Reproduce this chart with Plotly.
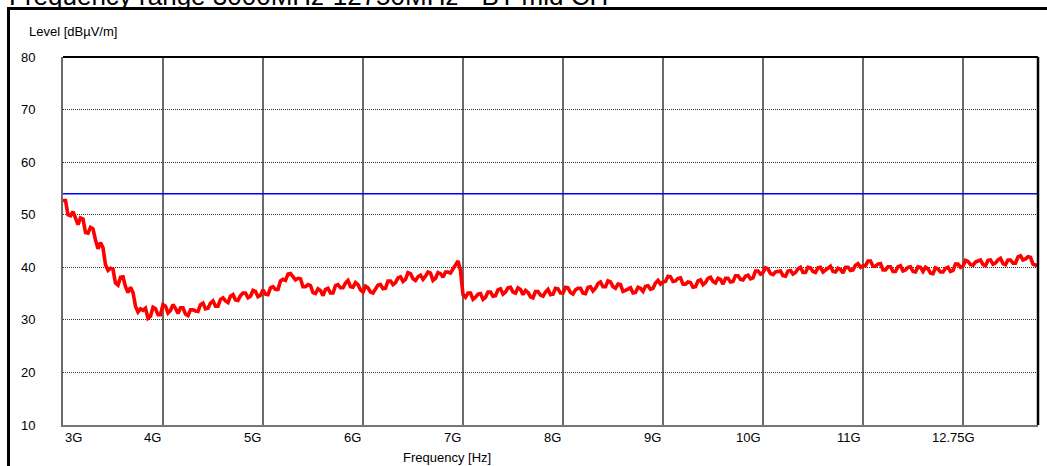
import numpy as np
import plotly.graph_objects as go

# ---- data ----
tick_freqs = [3, 4, 5, 6, 7, 8, 9, 10, 11, 12]
tick_labels = ["3G", "4G", "5G", "6G", "7G", "8G", "9G", "10G", "11G", "12.75G"]
y_ticks = [10, 20, 30, 40, 50, 60, 70, 80]
limit_level = 54.0
f_start, f_stop, f_step = 3.0, 12.75, 0.05

# measured level at f_start + i*f_step (GHz)
level = [
    52.7, 50.0, 50.6, 48.1, 49.2, 46.5, 47.3, 43.5, 43.7, 39.4, 39.6, 36.6, 38.2, 35.2, 35.2, 31.5, 31.8, 30.3, 32.4, 31.0,
    32.9, 31.3, 32.9, 31.2, 32.3, 30.8, 31.9, 31.6, 33.2, 32.2, 33.6, 32.6, 34.2, 33.3, 34.8, 33.7, 35.1, 34.2, 35.6, 34.4,
    35.7, 34.8, 36.3, 35.8, 37.7, 38.7, 38.1, 37.9, 36.3, 36.7, 35.2, 35.9, 34.6, 36.0, 35.1, 36.7, 36.1, 37.5, 36.2, 36.7,
    35.3, 36.1, 35.1, 36.6, 35.9, 37.4, 36.7, 38.0, 37.3, 39.0, 37.8, 38.2, 37.7, 39.1, 37.5, 39.0, 38.1, 39.1, 39.7, 41.2,
    34.8, 35.1, 33.9, 34.9, 33.9, 35.3, 34.5, 35.7, 34.9, 36.1, 35.3, 36.1, 34.8, 35.2, 34.2, 35.4, 34.5, 35.8, 34.9, 35.9,
    35.1, 36.1, 34.9, 36.0, 35.1, 36.2, 35.5, 36.9, 36.3, 37.4, 36.3, 36.8, 35.4, 35.9, 35.1, 36.2, 35.4, 36.5, 36.0, 37.5,
    37.2, 38.3, 37.3, 37.9, 36.8, 37.2, 36.2, 37.4, 36.7, 37.9, 37.3, 37.9, 36.8, 37.9, 37.3, 38.4, 37.6, 38.5, 38.0, 39.3,
    39.0, 39.7, 38.6, 39.2, 38.4, 39.3, 38.7, 39.7, 39.0, 40.0, 39.2, 39.9, 39.1, 40.0, 39.2, 39.8, 38.9, 40.0, 39.5, 40.7,
    40.3, 41.2, 40.2, 40.6, 39.5, 40.1, 39.2, 40.1, 39.3, 40.0, 39.2, 40.1, 39.2, 39.7, 38.8, 39.7, 39.1, 40.0, 39.4, 40.6,
    40.2, 41.1, 40.4, 41.2, 40.5, 41.3, 40.6, 41.4, 40.7, 41.4, 40.8, 42.0, 41.4, 42.0, 40.6, 40.5,
]
# measured level at f_start + f_step/2 + i*f_step (GHz)
level_mid = [
    52.7, 49.8, 49.4, 49.4, 46.6, 47.6, 45.2, 44.7, 40.5, 39.8, 37.0, 38.1, 36.3, 36.2, 32.6, 32.1, 32.2, 30.7, 32.1, 31.0,
    32.6, 31.8, 32.2, 32.3, 31.1, 31.9, 31.7, 32.9, 32.1, 33.2, 32.6, 33.9, 33.6, 34.5, 33.8, 34.6, 35.1, 34.5, 35.4, 34.7,
    34.9, 36.1, 35.8, 37.4, 37.5, 38.8, 37.6, 37.8, 36.3, 36.5, 35.0, 35.6, 35.8, 35.1, 36.5, 36.1, 37.0, 36.3, 37.1, 35.7,
    36.4, 35.3, 36.0, 36.7, 36.0, 37.4, 37.1, 38.2, 37.7, 38.8, 37.5, 38.5, 38.3, 38.9, 37.9, 38.8, 39.1, 38.9, 40.7, 39.4,
    34.3, 35.1, 34.3, 35.0, 34.3, 35.3, 34.6, 35.9, 35.3, 36.2, 35.1, 35.8, 35.6, 34.4, 35.4, 34.7, 35.3, 34.8, 36.0, 35.1,
    36.2, 35.2, 35.7, 36.0, 35.0, 36.3, 36.0, 37.2, 36.3, 37.2, 36.0, 36.7, 35.6, 36.1, 35.2, 36.0, 36.4, 35.8, 37.0, 36.8,
    37.3, 38.2, 37.4, 38.0, 36.8, 37.1, 36.3, 37.6, 37.1, 38.1, 37.0, 37.7, 37.9, 37.2, 38.4, 37.7, 38.3, 37.8, 39.3, 38.7,
    39.9, 38.8, 39.1, 39.3, 38.3, 39.4, 39.0, 40.0, 39.0, 39.9, 39.0, 40.0, 39.5, 40.2, 39.1, 39.6, 40.0, 39.4, 40.4, 40.0,
    40.3, 41.2, 40.2, 40.7, 39.5, 40.1, 39.2, 40.3, 39.5, 40.1, 39.1, 40.0, 40.0, 38.9, 39.9, 39.1, 39.8, 39.2, 40.6, 40.0,
    41.3, 40.5, 41.0, 41.4, 40.3, 41.4, 40.8, 41.7, 40.5, 41.4, 40.8, 42.2, 41.6, 41.9, 40.4,
]

pts = [(round(f_start + i * f_step, 3), v) for i, v in enumerate(level)]
pts += [(round(f_start + f_step / 2 + i * f_step, 3), v) for i, v in enumerate(level_mid)]
pts.sort()
freq_all = [p[0] for p in pts]
level_all = [p[1] for p in pts]

FONT = "Arial, Liberation Sans, sans-serif"

fig = go.Figure()
fig.add_trace(go.Scatter(
    x=[f_start, f_stop], y=[limit_level, limit_level], mode="lines",
    line=dict(color="#0000ff", width=1.5), hoverinfo="skip"))
fig.add_trace(go.Scatter(
    x=freq_all, y=level_all, mode="lines",
    line=dict(color="#ff0000", width=3.6)))

W, H = 1047, 466
L, R, T, B = 63, 9, 57, 41
pw, ph = W - L - R, H - T - B

def px_to_paper_x(px):
    return (px - L) / pw

def px_to_paper_y(py):
    return 1 - (py - T) / ph

annotations = []
for i, (fv, lab) in enumerate(zip(tick_freqs, tick_labels)):
    annotations.append(dict(
        x=fv, y=0, xref="x", yref="paper", text=lab, showarrow=False,
        xanchor="left" if i == 0 else "right", yanchor="middle",
        yshift=-12, xshift=14 if lab == "12.75G" else 0,
        font=dict(family=FONT, size=13, color="#000")))
annotations.append(dict(
    x=px_to_paper_x(447), y=px_to_paper_y(457), xref="paper", yref="paper",
    text="Frequency [Hz]", showarrow=False, xanchor="center", yanchor="middle",
    font=dict(family=FONT, size=13, color="#000")))
annotations.append(dict(
    x=px_to_paper_x(27), y=px_to_paper_y(31), xref="paper", yref="paper",
    text="Level [dBµV/m]", showarrow=False, xanchor="left", yanchor="middle",
    font=dict(family=FONT, size=13, color="#000")))
annotations.append(dict(
    x=px_to_paper_x(7), y=px_to_paper_y(-4), xref="paper", yref="paper",
    text="Frequency range 3000MHz-12750MHz - BT mid CH", showarrow=False,
    xanchor="left", yanchor="middle",
    font=dict(family=FONT, size=26, color="#000")))

shapes = [
    # outer frame (extends beyond the page on the right and bottom)
    dict(type="rect", xref="paper", yref="paper",
         x0=px_to_paper_x(8.5), x1=px_to_paper_x(1080),
         y0=px_to_paper_y(500), y1=px_to_paper_y(8.5),
         line=dict(color="#000", width=3)),
    # black top and right plot borders
    dict(type="line", xref="paper", yref="paper", x0=0, x1=1, y0=1, y1=1,
         line=dict(color="#000", width=2)),
    dict(type="line", xref="paper", yref="paper", x0=1, x1=1, y0=0, y1=1,
         line=dict(color="#000", width=2.5)),
]

fig.update_layout(
    width=W, height=H,
    margin=dict(l=L, r=R, t=T, b=B),
    paper_bgcolor="#ffffff", plot_bgcolor="#ffffff",
    showlegend=False,
    font=dict(family=FONT, size=13, color="#000"),
    annotations=annotations, shapes=shapes,
    xaxis=dict(range=[f_start, f_stop], tickvals=tick_freqs, showticklabels=False,
               showgrid=True, gridcolor="#6a6a6a", gridwidth=1.5,
               showline=True, linecolor="#777", linewidth=1.5,
               zeroline=False, ticks=""),
    yaxis=dict(range=[10, 80], tickvals=y_ticks, showgrid=True,
               gridcolor="#333", gridwidth=1, griddash="1px,1px",
               showline=True, linecolor="#6a6a6a", linewidth=2,
               zeroline=False, ticks="", ticklabelstandoff=23,
               tickfont=dict(family=FONT, size=13, color="#000")),
)

fig.write_html("out.html")
